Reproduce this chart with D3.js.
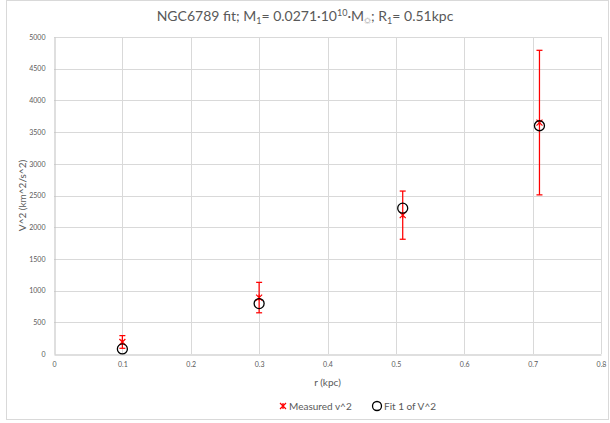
<!DOCTYPE html>
<html>
<head>
<meta charset="utf-8" />
<title>NGC6789 fit</title>
<style>
html, body { margin: 0; padding: 0; background: #fff; }
#chart { width: 610px; height: 423px; }
text { font-family: Lato, "Open Sans", sans-serif; fill: #595959; }
</style>
</head>
<body>
<div id="chart"></div>
<script src="https://d3js.org/d3.v7.min.js"></script>
<script>
// data
var radius    = [0.1, 0.3, 0.51, 0.71];        // r (kpc)
var measured  = [190, 890, 2190, 3650];        // measured v^2
var errors    = [100, 240, 380, 1140];         // error bar half-length
var fitted    = [80, 795, 2300, 3600];         // fit 1 of V^2
var xTicks    = [0, 0.1, 0.2, 0.3, 0.4, 0.5, 0.6, 0.7, 0.8];
var yTicks    = [0, 500, 1000, 1500, 2000, 2500, 3000, 3500, 4000, 4500, 5000];

!(function(){
    "use strict"

    var width = 610, height = 423
    var margin = {top: 37, left: 54, bottom: 69, right: 9}

    var svg = d3.select("#chart").append("svg")
        .attr("width", width)
        .attr("height", height)

    // chart border
    svg.append("rect")
        .attr("x", 6.5).attr("y", 0.5)
        .attr("width", 602).attr("height", 419)
        .attr("fill", "none")
        .attr("stroke", "#d9d9d9")

    var x = d3.scaleLinear().domain([0, 0.8]).range([margin.left, width - margin.right])
    var y = d3.scaleLinear().domain([0, 5000]).range([height - margin.bottom, margin.top])

    var plot = svg.append("g")

    // gridlines
    plot.append("g").selectAll("line")
        .data(yTicks.slice(1))
        .enter().append("line")
        .attr("x1", x(0)).attr("x2", x(0.8))
        .attr("y1", function(d){ return Math.round(y(d)) + 0.5 })
        .attr("y2", function(d){ return Math.round(y(d)) + 0.5 })
        .attr("stroke", "#d9d9d9")

    plot.append("g").selectAll("line")
        .data(xTicks.slice(1))
        .enter().append("line")
        .attr("y1", y(0)).attr("y2", y(5000))
        .attr("x1", function(d){ return Math.round(x(d)) + 0.5 })
        .attr("x2", function(d){ return Math.round(x(d)) + 0.5 })
        .attr("stroke", "#d9d9d9")

    // axes
    var xAxis = d3.axisBottom(x).tickValues(xTicks).tickSize(0).tickPadding(8)
        .tickFormat(function(d){ return d === 0 ? "0" : d3.format(".1f")(d) })
    var yAxis = d3.axisLeft(y).tickValues(yTicks).tickSize(0).tickPadding(9)
        .tickFormat(d3.format("d"))

    var gx = svg.append("g")
        .attr("transform", "translate(0," + (Math.round(y(0)) + 0.5) + ")")
        .call(xAxis)
    var gy = svg.append("g")
        .attr("transform", "translate(" + (Math.round(x(0)) + 0.5) + ",0)")
        .call(yAxis)

    gx.select(".domain").attr("stroke", "#bfbfbf")
    gy.select(".domain").attr("stroke", "#bfbfbf")
    svg.selectAll(".tick text")
        .attr("font-family", "Lato, sans-serif")
        .attr("font-size", "7px")
        .attr("fill", "#595959")

    // error bars
    var err = svg.append("g").selectAll("g")
        .data(radius.map(function(r, i){ return {r: r, v: measured[i], e: errors[i]} }))
        .enter().append("g")
        .attr("stroke", "#ff0000")
        .attr("stroke-width", 1.25)

    err.append("line")
        .attr("x1", function(d){ return x(d.r) }).attr("x2", function(d){ return x(d.r) })
        .attr("y1", function(d){ return y(d.v - d.e) }).attr("y2", function(d){ return y(d.v + d.e) })
    err.append("line")
        .attr("x1", function(d){ return x(d.r) - 3 }).attr("x2", function(d){ return x(d.r) + 3 })
        .attr("y1", function(d){ return y(d.v + d.e) }).attr("y2", function(d){ return y(d.v + d.e) })
    err.append("line")
        .attr("x1", function(d){ return x(d.r) - 3 }).attr("x2", function(d){ return x(d.r) + 3 })
        .attr("y1", function(d){ return y(d.v - d.e) }).attr("y2", function(d){ return y(d.v - d.e) })

    // measured markers (star)
    function star(g, cx, cy) {
        var s = 3
        g.append("path")
            .attr("d", "M" + (cx - s) + "," + (cy - s) + "L" + (cx + s) + "," + (cy + s) +
                       "M" + (cx - s) + "," + (cy + s) + "L" + (cx + s) + "," + (cy - s) +
                       "M" + cx + "," + (cy - s) + "L" + cx + "," + (cy + s))
            .attr("stroke", "#ff0000")
            .attr("stroke-width", 1.2)
            .attr("fill", "none")
    }
    var stars = svg.append("g")
    measured.forEach(function(v, i){ star(stars, x(radius[i]), y(v)) })

    // fit markers
    svg.append("g").selectAll("circle")
        .data(fitted)
        .enter().append("circle")
        .attr("cx", function(d, i){ return x(radius[i]) })
        .attr("cy", function(d){ return y(d) })
        .attr("r", 5)
        .attr("fill", "none")
        .attr("stroke", "#000")
        .attr("stroke-width", 1.3)

    // title
    var title = svg.append("text")
        .attr("x", 305).attr("y", 21)
        .attr("text-anchor", "middle")
        .attr("font-size", "14px")
    title.append("tspan").text("NGC6789 fit; M")
    title.append("tspan").attr("font-size", "9px").attr("dy", 3).text("1")
    title.append("tspan").attr("dy", -3).text("= 0.0271·10")
    title.append("tspan").attr("font-size", "9px").attr("dy", -5).text("10")
    title.append("tspan").attr("dy", 5).text("·M")
    title.append("tspan").attr("font-size", "9px").attr("dy", 3).attr("fill", "#a6a6a6").text("☼")
    title.append("tspan").attr("dy", -3).text("; R")
    title.append("tspan").attr("font-size", "9px").attr("dy", 3).text("1")
    title.append("tspan").attr("dy", -3).text("= 0.51kpc")

    // axis titles
    svg.append("text")
        .attr("x", x(0.4)).attr("y", 386)
        .attr("text-anchor", "middle")
        .attr("font-size", "10px")
        .text("r (kpc)")
    svg.append("text")
        .attr("transform", "translate(26," + y(2500) + ") rotate(-90)")
        .attr("text-anchor", "middle")
        .attr("font-size", "10px")
        .text("V^2 (km^2/s^2)")

    // legend
    var legend = svg.append("g")
    star(legend, 283, 406)
    legend.append("text").attr("x", 289).attr("y", 409.5).attr("font-size", "10px").text("Measured v^2")
    legend.append("circle").attr("cx", 377).attr("cy", 406).attr("r", 4.5)
        .attr("fill", "none").attr("stroke", "#000").attr("stroke-width", 1.3)
    legend.append("text").attr("x", 384).attr("y", 409.5).attr("font-size", "10px").text("Fit 1 of V^2")
}());
</script>
</body>
</html>
